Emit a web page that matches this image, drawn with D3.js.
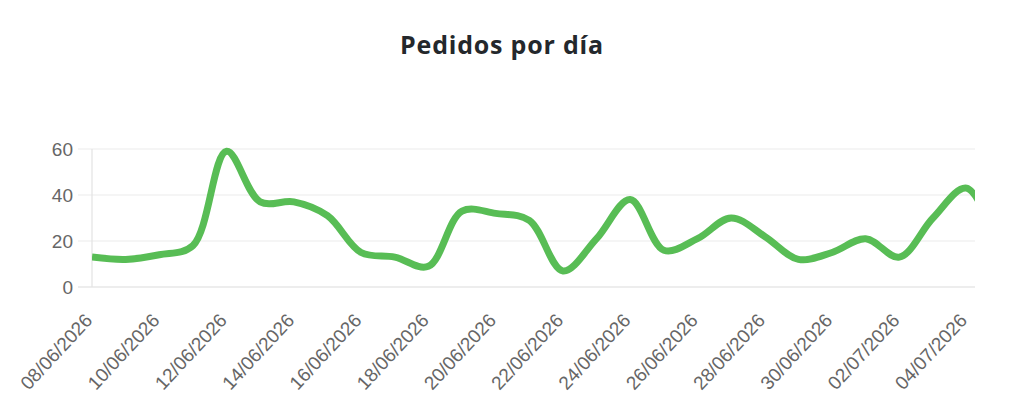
<!DOCTYPE html>
<html>
<head>
<meta charset="utf-8">
<script src="https://cdn.jsdelivr.net/npm/d3@7"></script>
<style>
  body { margin: 0; background: #fff; }
</style>
</head>
<body>
<div id="chart"></div>
<script>
// daily orders, 08/06/2026 .. 05/07/2026
var days = ["08/06/2026","09/06/2026","10/06/2026","11/06/2026","12/06/2026","13/06/2026","14/06/2026",
            "15/06/2026","16/06/2026","17/06/2026","18/06/2026","19/06/2026","20/06/2026","21/06/2026",
            "22/06/2026","23/06/2026","24/06/2026","25/06/2026","26/06/2026","27/06/2026","28/06/2026",
            "29/06/2026","30/06/2026","01/07/2026","02/07/2026","03/07/2026","04/07/2026","05/07/2026"];
var pedidos = [13, 12, 14, 18, 59, 37, 37,
               31, 15, 13, 9, 33, 32, 29,
               7, 21, 38, 16, 21, 30, 22,
               12, 15, 21, 13, 30, 43, 15];
var tickLabels = ["08/06/2026","10/06/2026","12/06/2026","14/06/2026","16/06/2026","18/06/2026","20/06/2026",
                  "22/06/2026","24/06/2026","26/06/2026","28/06/2026","30/06/2026","02/07/2026","04/07/2026"];
var yTicks = [0, 20, 40, 60];

var W = 1024, H = 419;
var margin = {top: 149, right: 49, bottom: 132, left: 92},
    width = W - margin.left - margin.right,
    height = H - margin.top - margin.bottom;

var parse = d3.timeParse("%d/%m/%Y");
var data = days.map(function(d, i) { return {date: parse(d), value: pedidos[i]}; });

var svg = d3.select("#chart")
  .append("svg")
    .attr("width", W)
    .attr("height", H);

// title
svg.append("text")
  .attr("x", 502)
  .attr("y", 54)
  .attr("text-anchor", "middle")
  .attr("font-family", "'Open Sans', Lato, sans-serif")
  .attr("font-weight", "bold")
  .attr("font-size", "25px")
  .attr("letter-spacing", "0.8px")
  .attr("fill", "#24282c")
  .text("Pedidos por día");

var g = svg.append("g")
  .attr("transform", "translate(" + margin.left + "," + margin.top + ")");

// x: chart area ends a quarter day after the last label
var start = parse(tickLabels[0]);
var end = d3.timeHour.offset(parse(tickLabels[tickLabels.length - 1]), 6);
var x = d3.scaleTime()
  .domain([start, end])
  .range([0, width]);

var y = d3.scaleLinear()
  .domain([0, 60])
  .range([height, 0]);

// horizontal grid, running a little left of the axis like tick marks
g.append("g")
  .selectAll("line")
  .data(yTicks)
  .enter()
  .append("line")
    .attr("x1", -14)
    .attr("x2", width)
    .attr("y1", function(d) { return y(d); })
    .attr("y2", function(d) { return y(d); })
    .attr("stroke", function(d) { return d === 0 ? "#dcdcdc" : "#ebebeb"; })
    .attr("stroke-width", 1.2);

// left axis line
g.append("line")
  .attr("x1", 0).attr("x2", 0)
  .attr("y1", y(60)).attr("y2", y(0))
  .attr("stroke", "#e3e3e3")
  .attr("stroke-width", 1.2);

// y labels
var yAxis = g.append("g")
  .call(d3.axisLeft(y).tickValues(yTicks).tickSize(0).tickPadding(19));
yAxis.select(".domain").remove();
yAxis.selectAll("text")
  .attr("font-family", "'Liberation Sans', Arial, sans-serif")
  .attr("font-size", "19px")
  .attr("fill", "#666");

// x labels, rotated
var xAxis = g.append("g")
  .attr("transform", "translate(0," + height + ")")
  .call(d3.axisBottom(x)
    .tickValues(tickLabels.map(parse))
    .tickFormat(d3.timeFormat("%d/%m/%Y"))
    .tickSize(0));
xAxis.select(".domain").remove();
xAxis.selectAll("text")
  .attr("font-family", "'Liberation Sans', Arial, sans-serif")
  .attr("font-size", "19px")
  .attr("fill", "#666")
  .attr("text-anchor", "end")
  .attr("y", 0)
  .attr("dy", "0.72em")
  .attr("transform", "translate(-9,25) rotate(-47)");

// line
svg.append("clipPath")
  .attr("id", "clip")
  .append("rect")
    .attr("width", width)
    .attr("height", height + 20)
    .attr("y", -10);

var line = d3.line()
  .x(function(d) { return x(d.date); })
  .y(function(d) { return y(d.value); })
  .curve(d3.curveCatmullRom.alpha(0.5));

g.append("path")
  .datum(data)
  .attr("clip-path", "url(#clip)")
  .attr("fill", "none")
  .attr("stroke", "#58bd55")
  .attr("stroke-width", 7)
  .attr("stroke-linejoin", "round")
  .attr("d", line);
</script>
</body>
</html>
